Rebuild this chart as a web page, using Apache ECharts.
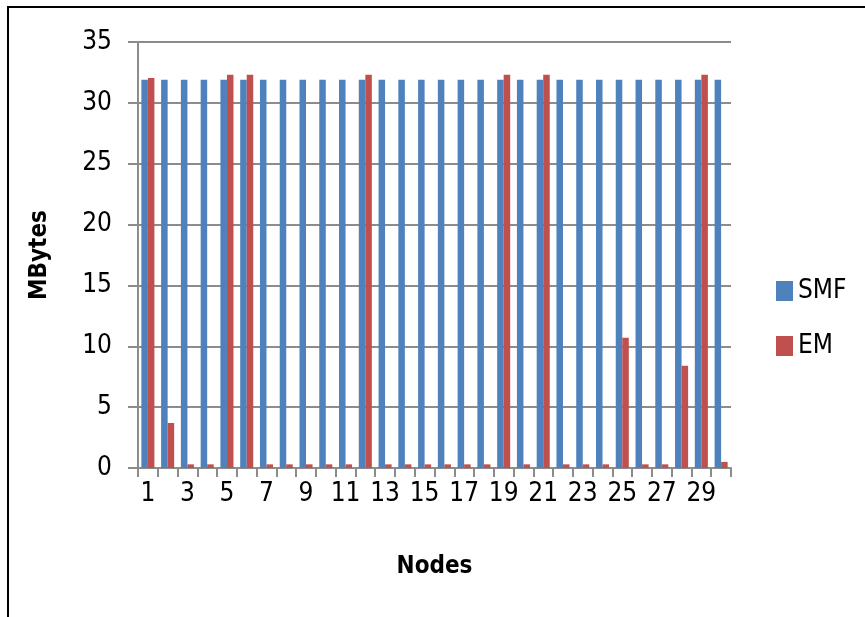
<!DOCTYPE html>
<html>
<head>
<meta charset="utf-8">
<script src="https://cdn.jsdelivr.net/npm/echarts@6/dist/echarts.min.js"></script>
<style>
html,body{margin:0;padding:0;background:#fff;}
#chart{width:865px;height:617px;}
</style>
</head>
<body>
<div id="chart"></div>
<script>
const nodes = ['1','2','3','4','5','6','7','8','9','10','11','12','13','14','15','16','17','18','19','20','21','22','23','24','25','26','27','28','29','30'];
const smfValues = [31.9,31.9,31.9,31.9,31.9,31.9,31.9,31.9,31.9,31.9,31.9,31.9,31.9,31.9,31.9,31.9,31.9,31.9,31.9,31.9,31.9,31.9,31.9,31.9,31.9,31.9,31.9,31.9,31.9,31.9];
const emValues = [32.05,3.7,0.3,0.3,32.3,32.3,0.3,0.3,0.3,0.3,0.3,32.3,0.3,0.3,0.3,0.3,0.3,0.3,32.3,0.3,32.3,0.3,0.3,0.3,10.7,0.3,0.3,8.4,32.3,0.5];
const yTicks = { min: 0, max: 35, interval: 5 };

const FONT = '"Liberation Sans Narrow", "DejaVu Sans Condensed", "Liberation Sans", sans-serif';
const chart = echarts.init(document.getElementById('chart'), null, {renderer: 'canvas'});
chart.setOption({
  animation: false,
  backgroundColor: '#fff',
  color: ['#4F81BD', '#C0504D'],
  graphic: [{
    type: 'rect', silent: true,
    shape: { x: 8, y: 7, width: 900, height: 700 },
    style: { fill: 'none', stroke: '#000', lineWidth: 2 }
  }],
  grid: { left: 138, right: 134, top: 42, bottom: 149, containLabel: false },
  legend: {
    orient: 'vertical', left: 776, top: 278, padding: 0, itemWidth: 17, itemHeight: 20, itemGap: 29,
    icon: 'rect',
    textStyle: { fontFamily: FONT, fontSize: 26, color: '#000' },
    data: ['SMF', 'EM']
  },
  xAxis: {
    type: 'category', data: nodes,
    name: 'Nodes', nameLocation: 'middle', nameGap: 87,
    nameTextStyle: { fontFamily: FONT, fontSize: 24, fontWeight: 'bold', color: '#000' },
    axisLine: { lineStyle: { color: '#8c8c8c', width: 2 } },
    axisTick: { show: true, interval: 0, length: 9, lineStyle: { color: '#8c8c8c', width: 2 } },
    axisLabel: { interval: 1, margin: 13, fontFamily: FONT, fontSize: 26, color: '#000' }
  },
  yAxis: {
    type: 'value', min: yTicks.min, max: yTicks.max, interval: yTicks.interval,
    name: 'MBytes', nameLocation: 'middle', nameGap: 86,
    nameTextStyle: { fontFamily: FONT, fontSize: 24, fontWeight: 'bold', color: '#000' },
    axisLine: { show: true, lineStyle: { color: '#8c8c8c', width: 2 } },
    axisTick: { show: true, length: 10, lineStyle: { color: '#8c8c8c', width: 2 } },
    axisLabel: { margin: 26, fontFamily: FONT, fontSize: 26, color: '#000' },
    splitLine: { show: true, lineStyle: { color: '#8c8c8c', width: 2 } }
  },
  series: [
    { name: 'SMF', type: 'bar', data: smfValues, barGap: '0%', barCategoryGap: '34%' },
    { name: 'EM', type: 'bar', data: emValues, barGap: '0%', barCategoryGap: '34%' }
  ]
});
</script>
</body>
</html>
